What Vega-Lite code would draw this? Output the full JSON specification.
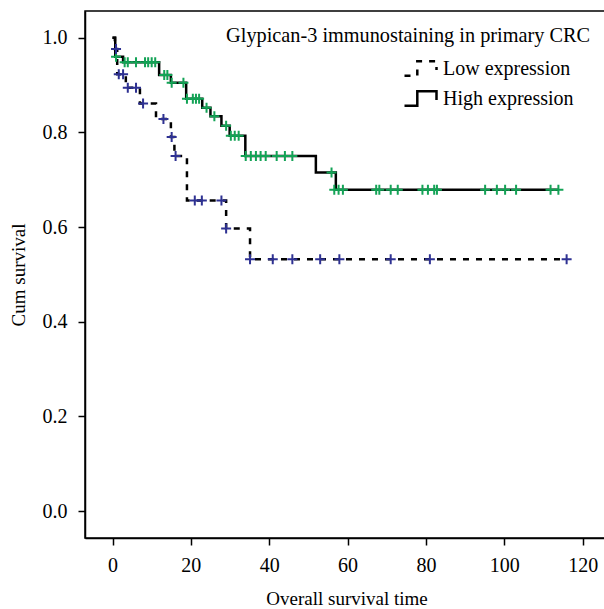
{
  "$schema": "https://vega.github.io/schema/vega-lite/v6.json",
  "autosize": "none",
  "width": 523,
  "height": 527,
  "padding": {"left": 85, "top": 11, "right": 0, "bottom": 71},
  "background": "white",
  "config": {
    "view": {"stroke": "black", "strokeWidth": 1.5},
    "font": "Liberation Serif",
    "axis": {
      "domainColor": "black", "domainWidth": 1.5, "tickColor": "black", "tickWidth": 1.5,
      "tickSize": 7, "labelColor": "black", "titleColor": "black",
      "labelFont": "Liberation Serif", "titleFont": "Liberation Serif",
      "labelFontSize": 20, "titleFontSize": 19, "titleFontWeight": "normal", "grid": false
    },
    "legend": {"labelFont": "Liberation Serif", "labelFontSize": 20, "labelColor": "black"}
  },
  "title": {
    "text": "Glypican-3 immunostaining in primary CRC",
    "anchor": "end", "frame": "group", "font": "Liberation Serif", "fontSize": 20.3,
    "fontWeight": "normal", "color": "black", "dx": -18, "dy": 39
  },
  "datasets": {
    "km": [
      {"group": "High expression", "t": 0, "s": 1.0},
      {"group": "High expression", "t": 0.7, "s": 0.960},
      {"group": "High expression", "t": 2.7, "s": 0.948},
      {"group": "High expression", "t": 11.9, "s": 0.921},
      {"group": "High expression", "t": 14.9, "s": 0.905},
      {"group": "High expression", "t": 18.8, "s": 0.871},
      {"group": "High expression", "t": 22.9, "s": 0.852},
      {"group": "High expression", "t": 25.0, "s": 0.834},
      {"group": "High expression", "t": 27.8, "s": 0.814},
      {"group": "High expression", "t": 29.9, "s": 0.793},
      {"group": "High expression", "t": 33.9, "s": 0.750},
      {"group": "High expression", "t": 51.9, "s": 0.715},
      {"group": "High expression", "t": 57.0, "s": 0.679},
      {"group": "High expression", "t": 113.8, "s": 0.679},
      {"group": "Low expression", "t": 0, "s": 1.0},
      {"group": "Low expression", "t": 0.6, "s": 0.976},
      {"group": "Low expression", "t": 1.2, "s": 0.923},
      {"group": "Low expression", "t": 3.4, "s": 0.894},
      {"group": "Low expression", "t": 7.0, "s": 0.861},
      {"group": "Low expression", "t": 11.1, "s": 0.828},
      {"group": "Low expression", "t": 14.9, "s": 0.790},
      {"group": "Low expression", "t": 15.8, "s": 0.750},
      {"group": "Low expression", "t": 19.0, "s": 0.656},
      {"group": "Low expression", "t": 29.0, "s": 0.597},
      {"group": "Low expression", "t": 35.1, "s": 0.532},
      {"group": "Low expression", "t": 115.9, "s": 0.532}
    ],
    "cens": [
      {"grp": "High expression", "t": 0.9, "s": 0.960},
      {"grp": "High expression", "t": 3.1, "s": 0.948},
      {"grp": "High expression", "t": 3.9, "s": 0.948},
      {"grp": "High expression", "t": 6.0, "s": 0.948},
      {"grp": "High expression", "t": 8.3, "s": 0.948},
      {"grp": "High expression", "t": 9.1, "s": 0.948},
      {"grp": "High expression", "t": 10.0, "s": 0.948},
      {"grp": "High expression", "t": 10.9, "s": 0.948},
      {"grp": "High expression", "t": 13.2, "s": 0.921},
      {"grp": "High expression", "t": 14.0, "s": 0.921},
      {"grp": "High expression", "t": 15.1, "s": 0.905},
      {"grp": "High expression", "t": 18.1, "s": 0.905},
      {"grp": "High expression", "t": 19.0, "s": 0.871},
      {"grp": "High expression", "t": 20.5, "s": 0.871},
      {"grp": "High expression", "t": 21.3, "s": 0.871},
      {"grp": "High expression", "t": 22.1, "s": 0.871},
      {"grp": "High expression", "t": 24.0, "s": 0.852},
      {"grp": "High expression", "t": 26.0, "s": 0.834},
      {"grp": "High expression", "t": 29.0, "s": 0.814},
      {"grp": "High expression", "t": 30.2, "s": 0.793},
      {"grp": "High expression", "t": 31.2, "s": 0.793},
      {"grp": "High expression", "t": 32.2, "s": 0.793},
      {"grp": "High expression", "t": 34.0, "s": 0.750},
      {"grp": "High expression", "t": 35.3, "s": 0.750},
      {"grp": "High expression", "t": 36.6, "s": 0.750},
      {"grp": "High expression", "t": 37.8, "s": 0.750},
      {"grp": "High expression", "t": 39.1, "s": 0.750},
      {"grp": "High expression", "t": 41.9, "s": 0.750},
      {"grp": "High expression", "t": 44.0, "s": 0.750},
      {"grp": "High expression", "t": 45.9, "s": 0.750},
      {"grp": "High expression", "t": 55.9, "s": 0.715},
      {"grp": "High expression", "t": 56.6, "s": 0.679},
      {"grp": "High expression", "t": 57.7, "s": 0.679},
      {"grp": "High expression", "t": 58.8, "s": 0.679},
      {"grp": "High expression", "t": 67.3, "s": 0.679},
      {"grp": "High expression", "t": 68.1, "s": 0.679},
      {"grp": "High expression", "t": 71.0, "s": 0.679},
      {"grp": "High expression", "t": 72.8, "s": 0.679},
      {"grp": "High expression", "t": 79.1, "s": 0.679},
      {"grp": "High expression", "t": 80.5, "s": 0.679},
      {"grp": "High expression", "t": 82.1, "s": 0.679},
      {"grp": "High expression", "t": 82.8, "s": 0.679},
      {"grp": "High expression", "t": 95.1, "s": 0.679},
      {"grp": "High expression", "t": 98.1, "s": 0.679},
      {"grp": "High expression", "t": 100.2, "s": 0.679},
      {"grp": "High expression", "t": 103.0, "s": 0.679},
      {"grp": "High expression", "t": 111.8, "s": 0.679},
      {"grp": "High expression", "t": 113.8, "s": 0.679},
      {"grp": "Low expression", "t": 0.9, "s": 0.976},
      {"grp": "Low expression", "t": 1.6, "s": 0.923},
      {"grp": "Low expression", "t": 2.7, "s": 0.923},
      {"grp": "Low expression", "t": 3.9, "s": 0.894},
      {"grp": "Low expression", "t": 6.0, "s": 0.894},
      {"grp": "Low expression", "t": 7.8, "s": 0.861},
      {"grp": "Low expression", "t": 13.0, "s": 0.828},
      {"grp": "Low expression", "t": 15.1, "s": 0.790},
      {"grp": "Low expression", "t": 16.1, "s": 0.750},
      {"grp": "Low expression", "t": 21.0, "s": 0.656},
      {"grp": "Low expression", "t": 22.8, "s": 0.656},
      {"grp": "Low expression", "t": 27.8, "s": 0.656},
      {"grp": "Low expression", "t": 29.0, "s": 0.597},
      {"grp": "Low expression", "t": 35.1, "s": 0.532},
      {"grp": "Low expression", "t": 40.9, "s": 0.532},
      {"grp": "Low expression", "t": 45.9, "s": 0.532},
      {"grp": "Low expression", "t": 53.0, "s": 0.532},
      {"grp": "Low expression", "t": 57.9, "s": 0.532},
      {"grp": "Low expression", "t": 71.0, "s": 0.532},
      {"grp": "Low expression", "t": 81.0, "s": 0.532},
      {"grp": "Low expression", "t": 115.9, "s": 0.532}
    ]
  },
  "layer": [
    {
      "data": {"name": "km"},
      "mark": {"type": "line", "interpolate": "step-after", "color": "black", "strokeWidth": 2.5},
      "encoding": {
        "x": {
          "field": "t", "type": "quantitative",
          "scale": {"domain": [-7.02, 126.46], "nice": false, "zero": false},
          "axis": {"values": [0, 20, 40, 60, 80, 100, 120], "title": "Overall survival time", "labelPadding": 10, "titlePadding": 14}
        },
        "y": {
          "field": "s", "type": "quantitative",
          "scale": {"domain": [-0.057, 1.0564], "nice": false, "zero": false},
          "axis": {"values": [0, 0.2, 0.4, 0.6, 0.8, 1.0], "format": ".1f", "title": "Cum survival", "labelPadding": 11, "titlePadding": 14}
        },
        "detail": {"field": "group"},
        "strokeDash": {
          "field": "group", "type": "nominal",
          "scale": {"domain": ["Low expression", "High expression"], "range": [[6, 7], [1, 0]]},
          "legend": {
            "title": null, "orient": "none", "legendX": 318, "legendY": 40, "padding": 0,
            "symbolType": "M-1,0.45H-0.2V-0.45H1V0.1",
            "symbolSize": 1024, "symbolStrokeWidth": 2.5, "symbolStrokeColor": "black",
            "symbolFillColor": "transparent", "labelOffset": 5, "rowPadding": -5,
            "labelFontSize": 20
          }
        }
      }
    },
    {
      "data": {"name": "cens"},
      "transform": [{"filter": "datum.grp == 'High expression'"}],
      "mark": {"type": "point", "shape": "M-1,0H1M0,-1V1", "filled": false, "strokeWidth": 2, "size": 100, "opacity": 1, "color": "#13a356"},
      "encoding": {
        "x": {"field": "t", "type": "quantitative"},
        "y": {"field": "s", "type": "quantitative"}
      }
    },
    {
      "data": {"name": "cens"},
      "transform": [{"filter": "datum.grp == 'Low expression'"}],
      "mark": {"type": "point", "shape": "M-1,0H1M0,-1V1", "filled": false, "strokeWidth": 2, "size": 100, "opacity": 1, "color": "#2e3192"},
      "encoding": {
        "x": {"field": "t", "type": "quantitative"},
        "y": {"field": "s", "type": "quantitative"}
      }
    }
  ]
}
